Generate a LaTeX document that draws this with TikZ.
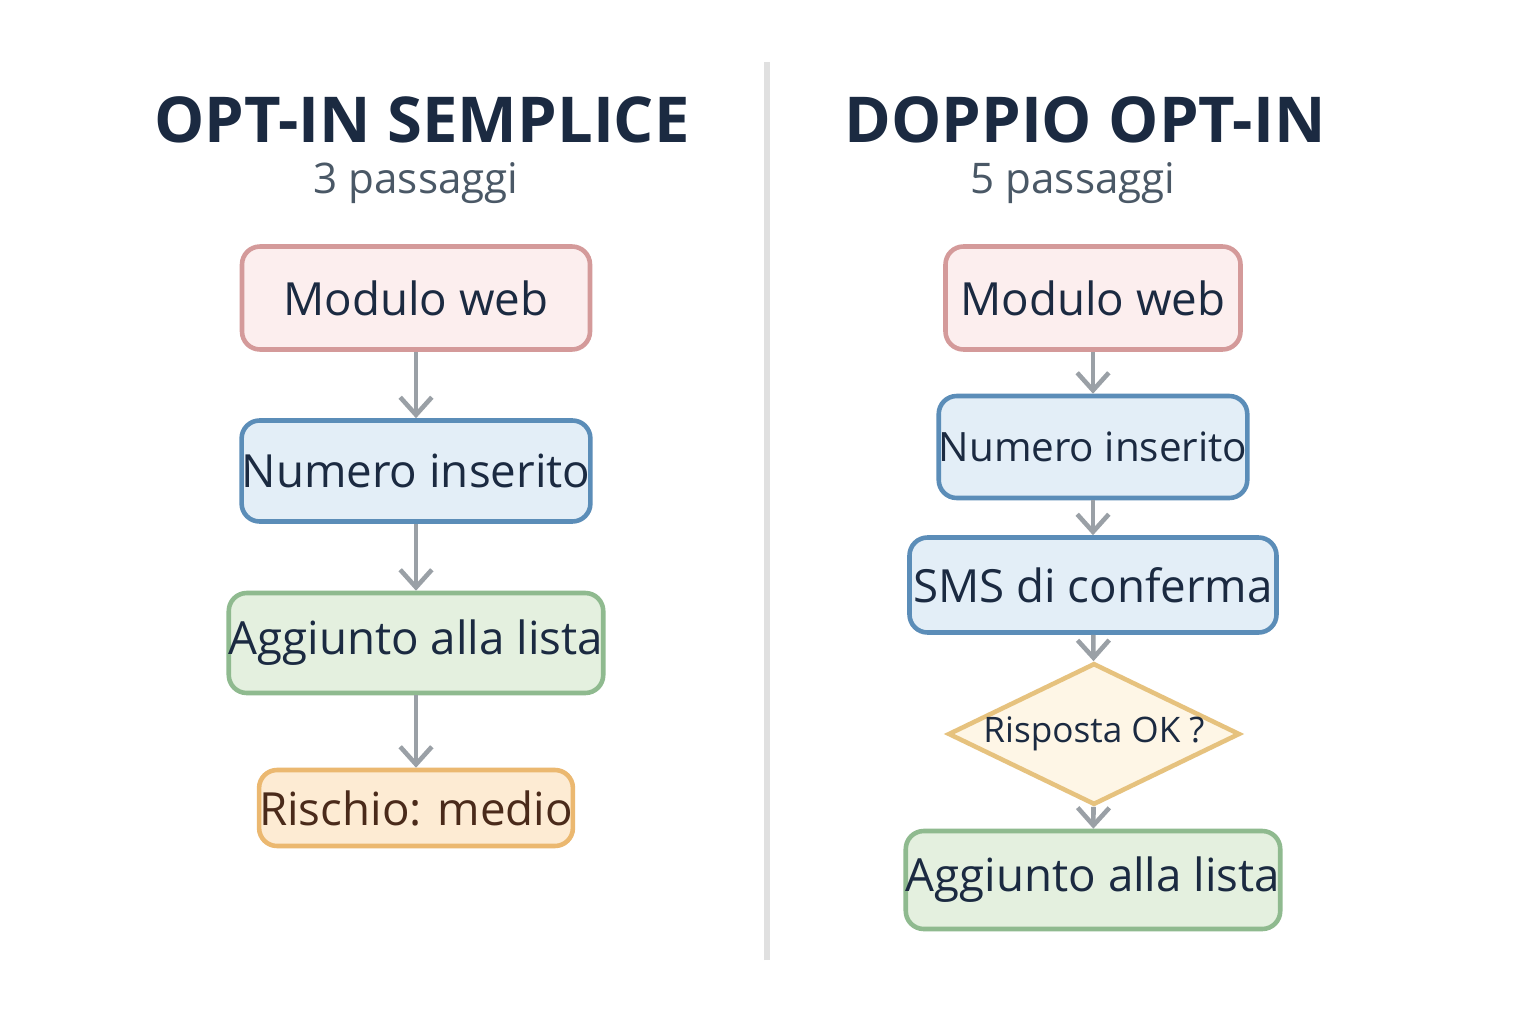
\documentclass[tikz,border=0pt]{standalone}
\usepackage{fontspec}
\setmainfont{Open Sans}
\usetikzlibrary{arrows.meta,shapes.geometric}
\definecolor{ink}{HTML}{1B2A41}
\definecolor{subink}{HTML}{4A5866}
\definecolor{redfill}{HTML}{FCEEEE}
\definecolor{redline}{HTML}{D49A9A}
\definecolor{bluefill}{HTML}{E3EEF7}
\definecolor{blueline}{HTML}{5B8DB8}
\definecolor{greenfill}{HTML}{E4F0DF}
\definecolor{greenline}{HTML}{8FBA8F}
\definecolor{orangefill}{HTML}{FDEBD3}
\definecolor{orangeline}{HTML}{EBB870}
\definecolor{diafill}{HTML}{FEF6E6}
\definecolor{dialine}{HTML}{E6C27E}
\definecolor{arrowgray}{HTML}{9AA0A6}
\tikzset{
  stepbox/.style={draw, line width=1.3pt, rounded corners=0.18cm, inner sep=0pt,
    text=ink, font=\fontsize{13}{15}\selectfont},
  redbox/.style={stepbox, fill=redfill, draw=redline},
  bluebox/.style={stepbox, fill=bluefill, draw=blueline},
  greenbox/.style={stepbox, fill=greenfill, draw=greenline},
  orangebox/.style={stepbox, fill=orangefill, draw=orangeline, text={rgb,255:red,74;green,42;blue,26}},
  title/.style={font=\fontsize{18}{20}\selectfont\bfseries, text=ink},
  subtitle/.style={font=\fontsize{12}{14}\selectfont, text=subink},
  flow/.style={draw=arrowgray, line width=1.3pt, -{Straight Barb[length=5pt,width=9pt]}}
}
\begin{document}
\begin{tikzpicture}
\useasboundingbox[fill=white] (0,0) rectangle (15.36,10.24);
\draw[line width=1.5pt, draw=black!12] (7.67,0.64) -- (7.67,9.62);

% left column
\node[title] (t1) at (4.22,9.04) {OPT-IN SEMPLICE};
\node[subtitle] (s1) at (4.16,8.41) {3 passaggi};
\node[redbox, minimum width=3.48cm, minimum height=1.03cm] (l1) at (4.16,7.26) {Modulo web};
\node[bluebox, minimum width=3.48cm, minimum height=1.01cm] (l2) at (4.16,5.53) {Numero inserito};
\node[greenbox, minimum width=3.48cm, minimum height=1.0cm] (l3) at (4.16,3.81) {Aggiunto alla lista};
\node[orangebox, minimum width=3.0cm, minimum height=0.76cm] (l4) at (4.16,2.16) {Rischio: medio};

\path[flow] (l1) -- (l2);
\path[flow] (l2) -- (l3);
\path[flow] (l3) -- (l4);

% right column
\node[title] (t2) at (10.85,9.04) {DOPPIO OPT-IN};
\node[subtitle] (s2) at (10.73,8.41) {5 passaggi};
\node[redbox, minimum width=2.95cm, minimum height=1.03cm] (r1) at (10.93,7.26) {Modulo web};
\node[bluebox, minimum width=2.95cm, minimum height=1.02cm, font=\fontsize{11.5}{13}\selectfont] (r2) at (10.93,5.77) {Numero inserito};
\node[bluebox, minimum width=3.67cm, minimum height=0.95cm] (r3) at (10.93,4.39) {SMS di conferma};
\node[diamond, draw=dialine, fill=diafill, line width=1.3pt, inner sep=0pt, aspect=2.06,
  minimum width=2.64cm, minimum height=1.28cm, text=ink, font=\fontsize{10}{12}\selectfont] (r4) at (10.94,2.90) {Risposta OK ?};
\node[greenbox, minimum width=3.63cm, minimum height=0.98cm] (r5) at (10.93,1.44) {Aggiunto alla lista};

\path[flow] (r1) -- (r2);
\path[flow] (r2) -- (r3);
\path[flow] (r3) -- (r4);
\path[flow] (r4) -- (r5);
\end{tikzpicture}
\end{document}
